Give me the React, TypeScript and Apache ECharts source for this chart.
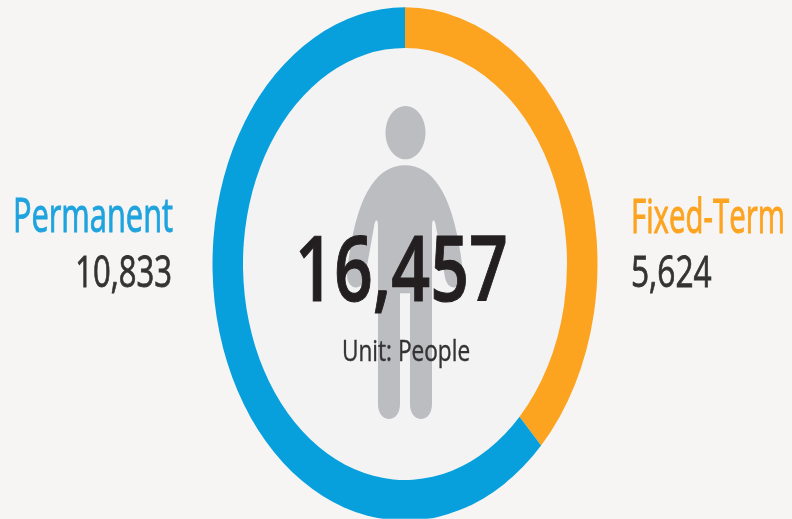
import React, { useEffect, useRef } from "react";
import * as echarts from "echarts";

// Printed figures
const totalLabel = "16,457";
const unitLabel = "Unit: People";
const categories = ["Fixed-Term", "Permanent"];
const printedValues = ["5,624", "10,833"];
// The arc sizes measured on the ring (135 and 225 degrees of the circle).
// The reference ring is not drawn in proportion to its printed figures.
const ringShares = [37.5, 62.5];
const colors = ["#fca31f", "#08a0dc"];

const PERSON =
  "M0 124 C28 124 50 146 58 205 C59 217 43 220 40 208 L31 170 C30 164 27 163 27 170 L27 303 C27 318 5 318 5 303 L5 220 L-5 220 L-5 303 C-5 318 -27 318 -27 303 L-27 170 C-27 163 -30 164 -31 170 L-40 208 C-43 220 -59 217 -58 205 C-50 146 -28 124 0 124 Z";
echarts.graphic.registerShape("person", echarts.graphic.extendPath(PERSON, {}));

const STRETCH = 4 / 3;
const FONT = '"Open Sans", "Noto Sans", sans-serif';

function label(text: string, x: number, y: number, size: number, scaleX: number, fill: string, align: string, weight = 400, thicken = 0) {
  return {
    type: "text",
    x,
    y,
    scaleX,
    z: 5,
    style: {
      text,
      fill,
      stroke: thicken ? fill : undefined,
      lineWidth: thicken,
      fontSize: size,
      fontFamily: FONT,
      fontWeight: weight,
      textAlign: align,
      textVerticalAlign: "middle",
    },
  };
}

export default function App() {
  const ref = useRef<HTMLDivElement>(null);
  useEffect(() => {
    document.body.style.margin = "0";
    const chart = echarts.init(ref.current!, null, { renderer: "svg" });
    chart.setOption({
      animation: false,
      backgroundColor: "#f6f5f4",
      graphic: [
        { type: "circle", shape: { cx: 405, cy: 198, r: 165 }, style: { fill: "#f3f3f4" }, z: 0 },
        { type: "circle", shape: { cx: 405.5, cy: 99.5, r: 20 }, style: { fill: "#bbbdc0" }, z: 1 },
        { type: "person", x: 405, y: 0, style: { fill: "#bbbdc0" }, z: 1 },
        label(totalLabel, 401.5, 199, 68, 1.0, "#231f20", "center", 600, 0.8),
        label(unitLabel, 406, 262, 22, 1.03, "#333333", "center", 400, 0.3),
        label(categories[1], 173, 161, 35, 0.88, "#1ea3de", "right", 400, 0.7),
        label(printedValues[1], 172, 202, 33, 0.94, "#333333", "right", 400, 0.6),
        label(categories[0], 631, 161, 35, 0.84, colors[0], "left", 400, 0.7),
        label(printedValues[0], 631, 202, 33, 0.96, "#333333", "left", 400, 0.6),
      ],
      series: [
        {
          type: "pie",
          center: [405, 198],
          radius: [162, 192.5],
          startAngle: 90,
          clockwise: true,
          silent: true,
          label: { show: false },
          labelLine: { show: false },
          data: categories.map((name, i) => ({
            name,
            value: ringShares[i],
            itemStyle: { color: colors[i] },
          })),
        },
      ],
    });
    return () => chart.dispose();
  }, []);
  return (
    <div style={{ position: "fixed", left: 0, top: 0, width: 792, height: 519, overflow: "hidden", background: "#f6f5f4", filter: "blur(0.5px)" }}>
      <div
        ref={ref}
        style={{ width: 792, height: 519 / STRETCH, transform: `scaleY(${STRETCH})`, transformOrigin: "0 0" }}
      />
    </div>
  );
}
